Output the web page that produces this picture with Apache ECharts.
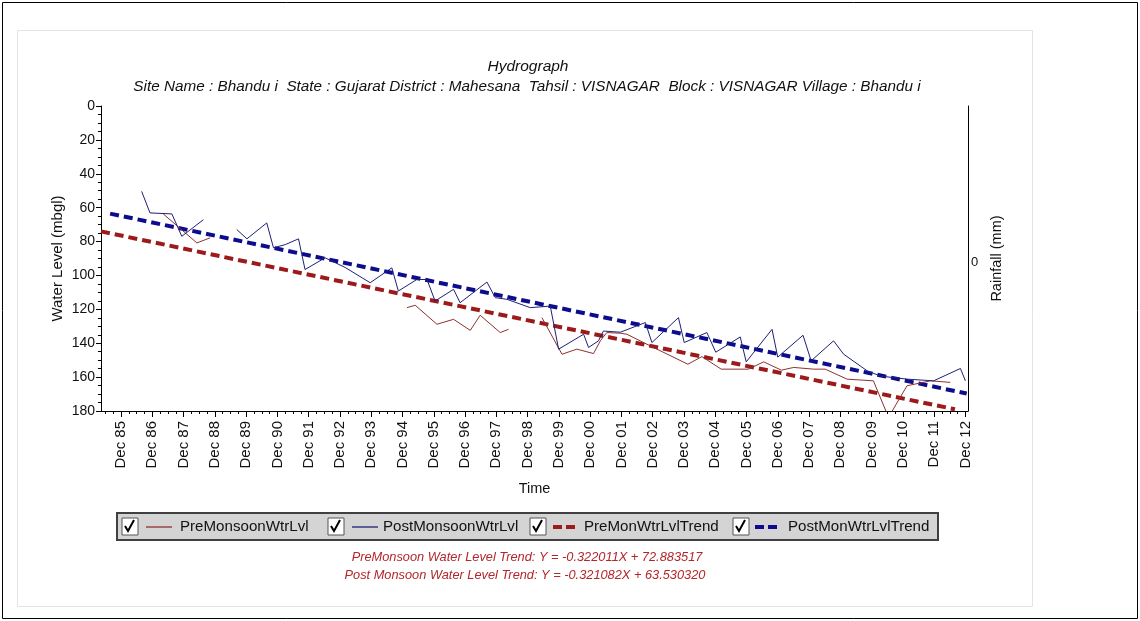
<!DOCTYPE html>
<html><head><meta charset="utf-8">
<script src="https://cdn.jsdelivr.net/npm/echarts@6/dist/echarts.min.js"></script>
<style>html,body{margin:0;padding:0;background:#fff}#c{width:1140px;height:621px}</style>
</head><body><div id="c"></div>
<script>
// x values are months counted from Dec 1985; y values are water level (m bgl)
const tickMonths = [0,12,24,36,48,60,72,84,96,108,120,132,144,156,168,180,192,204,216,228,240,252,264,276,288,300,312,324];
const tickLabels = ['Dec 85','Dec 86','Dec 87','Dec 88','Dec 89','Dec 90','Dec 91','Dec 92','Dec 93','Dec 94','Dec 95','Dec 96','Dec 97','Dec 98','Dec 99','Dec 00','Dec 01','Dec 02','Dec 03','Dec 04','Dec 05','Dec 06','Dec 07','Dec 08','Dec 09','Dec 10','Dec 11','Dec 12'];
const yTicks = [0,20,40,60,80,100,120,140,160,180];

const postMonths = [7.9,11.1,19.5,23.3,31.6,null,44.4,48.3,55.9,58.5,63.0,68.1,70.6,78.3,86.0,95.6,103.9,106.4,113.5,117.4,120.5,127.6,130.1,140.4,143.6,148.1,157.0,164.7,167.9,177.5,179.4,183.2,185.1,191.6,201.2,203.7,213.9,216.1,224.8,228.2,237.6,239.9,249.8,252.0,261.7,264.8,273.4,277.3,286.3,291.4,301.6,311.8,322.1,324.0];
const postLevels = [50.4,63.1,63.7,76.9,67.1,null,72.9,78.4,69.0,83.7,81.8,78.4,96.5,89.6,95.3,104.3,95.5,109.2,102.4,102.4,115.1,108.2,116.1,103.9,113.1,114.1,119.0,118.1,143.5,134.7,142.5,138.6,132.8,133.5,127.8,139.6,124.9,139.6,133.7,145.3,136.3,151.0,131.8,148.2,135.3,150.4,138.6,146.5,156.3,159.4,161.2,162.2,154.9,162.2];

const preMonths = [16.2,29.1,34.2,null,109.7,112.9,121.2,127.6,134.0,137.8,145.5,148.7,null,161.5,169.2,174.9,181.3,183.9,186.4,191.6,194.1,203.1,217.5,222.9,230.3,240.7,246.6,253.4,258.1,265.8,270.2,278.6,288.7,294.5,301.6,310.6,318.2];
const preLevels = [63.7,80.8,77.8,null,119.0,117.6,128.8,125.9,132.4,123.5,133.7,131.8,null,124.9,146.5,143.5,146.1,138.6,133.7,134.1,134.7,141.6,152.4,147.9,155.3,155.3,151.0,155.9,154.3,155.3,155.3,161.2,162.2,183.7,165.1,162.2,163.1];

const preTrendMonths = [-7.7, 320];
const preTrendLevels = [74.0, 179.0];
const postTrendMonths = [-4.2, 324.5];
const postTrendLevels = [63.5, 169.7];

const seriesNames = ['PreMonsoonWtrLvl','PostMonsoonWtrLvl','PreMonWtrLvlTrend','PostMonWtrLvlTrend'];
const trendTexts = ['PreMonsoon Water Level Trend: Y = -0.322011X + 72.883517','Post Monsoon Water Level Trend: Y = -0.321082X + 63.530320'];

function pairs(xs, ys){ return xs.map((x,i)=> (x===null||ys[i]===null) ? ['-','-'] : [x, ys[i]]); }
const minorMonths = []; for (let m=-6; m<=324; m+=3) minorMonths.push(m);

const FONT = 'Liberation Sans';
const C_PRE='#8e3030', C_POST='#1f1f78', C_PRET='#9c1a1a', C_POSTT='#0c0c8c';

const chart = echarts.init(document.getElementById('c'), null, {renderer:'canvas'});

const legendItems = [
  {cb:122, ls:146, le:172, tx:180, color:C_PRE, dash:false},
  {cb:328, ls:352, le:378, tx:383, color:C_POST, dash:false},
  {cb:530, ls:553, le:578, tx:584, color:C_PRET, dash:true},
  {cb:733, ls:755, le:781, tx:788, color:C_POSTT, dash:true}
];
const graphics = [
  {type:'rect', shape:{x:2.5,y:2.5,width:1135,height:616}, style:{fill:null, stroke:'#000', lineWidth:1}, silent:true},
  {type:'rect', shape:{x:17.5,y:30.5,width:1015,height:576}, style:{fill:null, stroke:'#e4e4e4', lineWidth:1}, silent:true},
  {type:'rect', shape:{x:117,y:513,width:821,height:27}, style:{fill:'#d4d4d4', stroke:'#404040', lineWidth:2}, silent:true},
  {type:'text', x:528, y:67, style:{text:'Hydrograph', font:'italic 15.5px '+FONT, fill:'#111', textAlign:'center', textVerticalAlign:'middle'}},
  {type:'text', x:527, y:87, style:{text:'Site Name : Bhandu i  State : Gujarat District : Mahesana  Tahsil : VISNAGAR  Block : VISNAGAR Village : Bhandu i', font:'italic 15.3px '+FONT, fill:'#111', textAlign:'center', textVerticalAlign:'middle'}},
  {type:'text', x:527, y:557, style:{text:trendTexts[0], font:'italic 12.8px '+FONT, fill:'#b3262b', textAlign:'center', textVerticalAlign:'middle'}},
  {type:'text', x:525, y:575, style:{text:trendTexts[1], font:'italic 12.8px '+FONT, fill:'#b3262b', textAlign:'center', textVerticalAlign:'middle'}}
];
legendItems.forEach((it,i)=>{
  graphics.push({type:'rect', shape:{x:it.cb,y:518,width:16,height:17}, style:{fill:'#fff', stroke:'#555', lineWidth:1}, silent:true});
  graphics.push({type:'polyline', shape:{points:[[it.cb+3,526],[it.cb+6,531],[it.cb+12,520]]}, style:{stroke:'#000', lineWidth:2, fill:null}, silent:true});
  graphics.push({type:'line', shape:{x1:it.ls,y1:527,x2:it.le,y2:527}, style:{stroke:it.color, lineWidth: it.dash?4:1.3, lineDash: it.dash?[9,4]:null}, silent:true});
  graphics.push({type:'text', x:it.tx, y:527, scaleX:1.08, style:{text:seriesNames[i], font:'14px '+FONT, fill:'#111', textVerticalAlign:'middle'}});
});

const option = {
  backgroundColor:'#fff',
  animation:false,
  grid:{left:101, right:172, top:106, bottom:210, containLabel:false},
  xAxis:[{
    type:'value', min:-7.7, max:325, name:'Time', nameLocation:'middle', nameGap:70,
    nameTextStyle:{fontFamily:FONT, fontSize:14.5, color:'#111'},
    axisLine:{show:true, onZero:false, lineStyle:{color:'#000', width:1}},
    splitLine:{show:false},
    axisTick:{show:true, customValues:tickMonths, length:6, lineStyle:{color:'#000'}},
    axisLabel:{show:true, customValues:tickMonths, rotate:90, fontFamily:FONT, fontSize:15, color:'#111', margin:10,
      formatter:(v)=>{const i=tickMonths.indexOf(Math.round(v)); return i>=0?tickLabels[i]:'';}}
  },{
    type:'value', min:-7.7, max:325, position:'bottom',
    axisLine:{show:false, onZero:false}, splitLine:{show:false}, axisLabel:{show:false},
    axisTick:{show:true, customValues:minorMonths, length:3, lineStyle:{color:'#000'}}
  }],
  yAxis:[{
    type:'value', inverse:true, min:0, max:180, interval:20, position:'left',
    name:'Water Level (mbgl)', nameLocation:'middle', nameGap:43, nameRotate:90, nameMoveOverlap:false,
    nameTextStyle:{fontFamily:FONT, fontSize:15, color:'#111', verticalAlign:'middle'},
    axisLine:{show:true, onZero:false, lineStyle:{color:'#000'}},
    axisTick:{show:true, length:5, lineStyle:{color:'#000'}},
    minorTick:{show:true, splitNumber:4, length:3, lineStyle:{color:'#000'}},
    splitLine:{show:false},
    axisLabel:{fontFamily:FONT, fontSize:14, color:'#111', margin:6,
      formatter:(v)=> yTicks.indexOf(v)>=0 ? String(v) : ''}
  },{
    type:'value', min:-0.977, max:1.023, position:'right',
    name:'Rainfall (mm)', nameLocation:'middle', nameGap:17, nameRotate:90,
    nameTextStyle:{fontFamily:FONT, fontSize:14.5, color:'#111'},
    axisLine:{show:true, onZero:false, lineStyle:{color:'#000'}},
    axisTick:{show:false}, splitLine:{show:false},
    axisLabel:{customValues:[0], fontFamily:FONT, fontSize:13, color:'#111', margin:3, formatter:(v)=> '0'}
  }],
  series:[
    {name:seriesNames[0], type:'line', data:pairs(preMonths, preLevels), showSymbol:false, symbol:'none', connectNulls:false,
      lineStyle:{color:C_PRE, width:1}, z:3},
    {name:seriesNames[1], type:'line', data:pairs(postMonths, postLevels), showSymbol:false, symbol:'none', connectNulls:false,
      lineStyle:{color:C_POST, width:1}, z:3},
    {name:seriesNames[2], type:'line', data:pairs(preTrendMonths, preTrendLevels), showSymbol:false, symbol:'none',
      lineStyle:{color:C_PRET, width:4, type:[9,5], cap:'butt'}, z:2},
    {name:seriesNames[3], type:'line', data:pairs(postTrendMonths, postTrendLevels), showSymbol:false, symbol:'none',
      lineStyle:{color:C_POSTT, width:4, type:[9,5], cap:'butt'}, z:2}
  ],
  graphic: graphics
};
chart.setOption(option);
</script></body></html>
